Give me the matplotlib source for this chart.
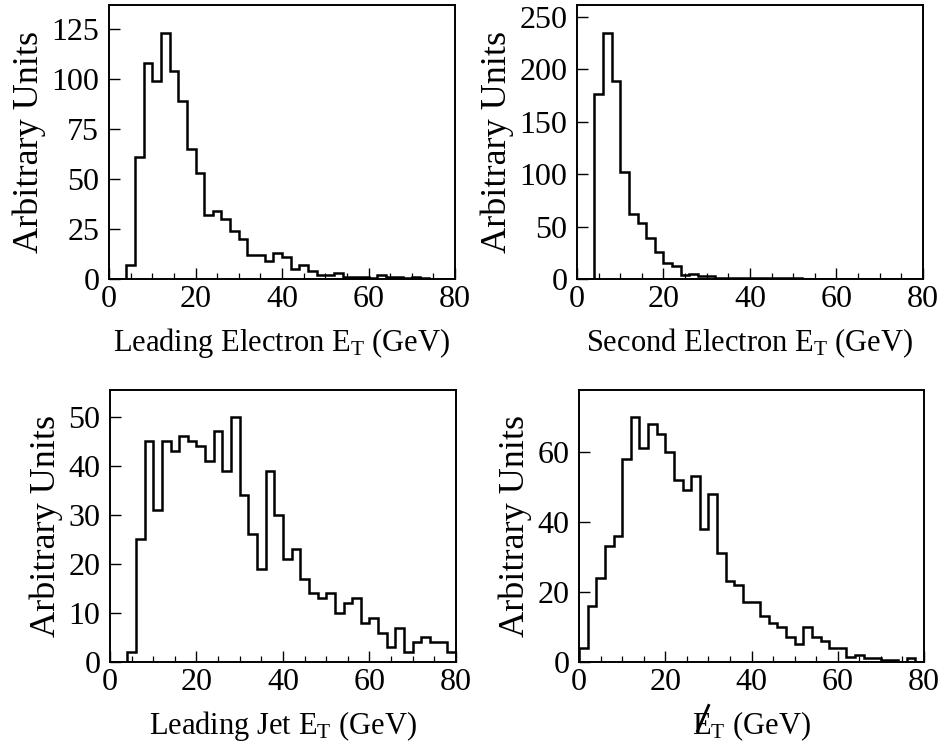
import numpy as np
import matplotlib
matplotlib.use("Agg")
import matplotlib.pyplot as plt
from matplotlib.lines import Line2D
from matplotlib.ticker import MultipleLocator, FixedLocator

plt.rcParams['font.family'] = ['Liberation Serif', 'DejaVu Serif']
plt.rcParams['mathtext.fontset'] = 'custom'
plt.rcParams['mathtext.rm'] = 'Liberation Serif'
plt.rcParams['mathtext.it'] = 'Liberation Serif:italic'

# Bin edges (GeV), 2 GeV bins from 0 to 80
bin_edges = np.arange(0, 82, 2)

lead_electron = [0, 0, 7, 61, 108, 99, 123, 104, 89, 65,
                 53, 32, 34, 30, 24, 20, 12, 12, 9, 13,
                 11, 5, 7, 4, 2, 2, 3, 1, 1, 1,
                 0.5, 2, 1, 1, 0.5, 1, 0.5, 0, 0, 0]

second_electron = [0, 0, 176, 234, 189, 102, 62, 53, 39, 26,
                   15, 12, 3.5, 5, 3, 3, 1, 0.7, 0.7, 1.2,
                   1.2, 0.5, 1.2, 1.2, 0.5, 0.5, 0.3, 0, 0, 0,
                   0, 0, 0, 0, 0, 0, 0, 0, 0, 0]

lead_jet = [0, 0, 2, 25, 45, 31, 45, 43, 46, 45,
            44, 41, 47, 39, 50, 34, 26, 19, 39, 30,
            21, 23, 17, 14, 13, 14, 10, 12, 13, 8,
            9, 6, 3, 7, 2, 4, 5, 4, 4, 2]

missing_et = [4, 16, 24, 33, 36, 58, 70, 61, 68, 65,
              60, 52, 49, 53, 38, 48, 31, 23, 22, 17,
              17, 13, 11, 10, 7, 5, 10, 7, 6, 4,
              4, 1.3, 2, 1, 1, 0.5, 0.5, 0, 1, 0]

x_ticks = [0, 20, 40, 60, 80]
y_ticks_1 = [0, 25, 50, 75, 100, 125]
y_ticks_2 = [0, 50, 100, 150, 200, 250]
y_ticks_3 = [0, 10, 20, 30, 40, 50]
y_ticks_4 = [0, 20, 40, 60]

xlabels = [r'Leading Electron E$_{\mathrm{T}}$ (GeV)',
           r'Second Electron E$_{\mathrm{T}}$ (GeV)',
           r'Leading Jet E$_{\mathrm{T}}$ (GeV)',
           r'E$_{\mathrm{T}}$ (GeV)']
ylabel = 'Arbitrary Units'

W, H = 945, 752
fig = plt.figure(figsize=(W / 100, H / 100), dpi=100)

def px_axes(l, t, r, b):
    return fig.add_axes([l / W, 1 - b / H, (r - l) / W, (b - t) / H])

axes = [px_axes(109, 5, 455, 279),
        px_axes(577, 5, 923, 279),
        px_axes(110, 390, 456, 662),
        px_axes(579, 390, 924, 662)]

datasets = [lead_electron, second_electron, lead_jet, missing_et]
yticks = [y_ticks_1, y_ticks_2, y_ticks_3, y_ticks_4]
ylims = [137, 261, 55.4, 77.6]

XL_SIZE = 22
for ax, data, yt, ylim, xl in zip(axes, datasets, yticks, ylims, xlabels):
    ax.stairs(data, bin_edges, baseline=0, color='black', linewidth=1.8)
    ax.set_xlim(0, 80)
    ax.set_ylim(0, ylim)
    ax.xaxis.set_major_locator(FixedLocator(x_ticks))
    ax.xaxis.set_minor_locator(MultipleLocator(5))
    ax.yaxis.set_major_locator(FixedLocator(yt))
    ax.tick_params(axis='both', which='major', direction='in', length=8, width=1.0,
                   labelsize=23, top=False, right=False)
    ax.tick_params(axis='x', which='major', pad=4)
    ax.tick_params(axis='y', which='major', pad=7)
    ax.tick_params(axis='both', which='minor', direction='in', length=4.5, width=0.9,
                   top=False, right=False)
    ax.tick_params(axis='y', which='minor', left=False)
    for s in ax.spines.values():
        s.set_linewidth(1.4)
    ax.set_xlabel(xl, fontsize=XL_SIZE, labelpad=9)
    ax.set_ylabel(ylabel, fontsize=26, labelpad=4)

# Draw the slash of the missing-ET symbol across the "E" of the last label
fig.canvas.draw()
lbl = axes[3].xaxis.label
bb = lbl.get_window_extent(renderer=fig.canvas.get_renderer())
fs_px = XL_SIZE * 100 / 72.0
e_cx = bb.x0 + 0.36 * fs_px
e_cy = bb.y1 - 0.30 * fs_px
dx, dy = 0.2 * fs_px, 0.46 * fs_px
slash = Line2D([e_cx - dx, e_cx + dx], [e_cy - dy, e_cy + dy],
               transform=None, color='black', linewidth=2.0,
               solid_capstyle='butt')
fig.add_artist(slash)

fig.savefig('out.png', dpi=100, facecolor='white')
